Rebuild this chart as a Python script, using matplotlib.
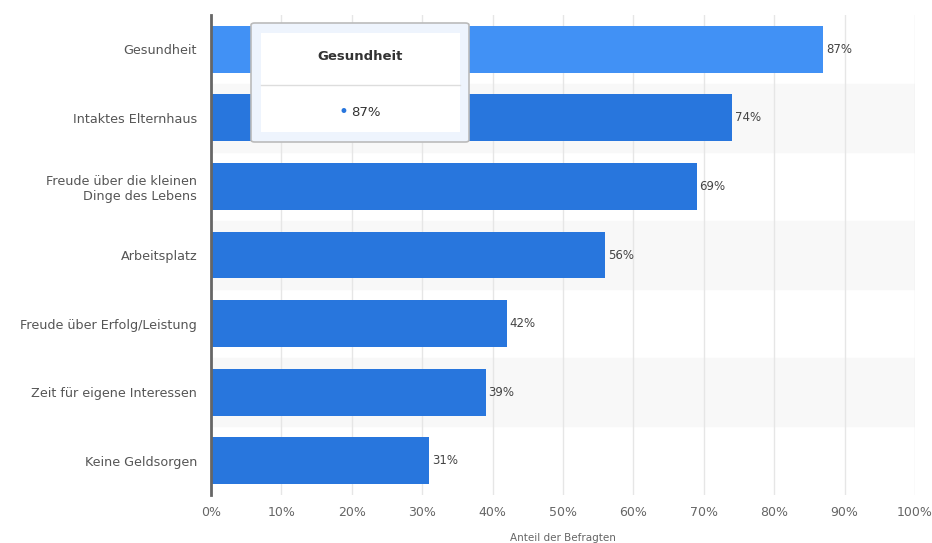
import matplotlib.pyplot as plt
from matplotlib.patches import FancyBboxPatch, Rectangle

categories = ['Gesundheit', 'Intaktes Elternhaus', 'Freude über die kleinen\nDinge des Lebens',
              'Arbeitsplatz', 'Freude über Erfolg/Leistung', 'Zeit für eigene Interessen',
              'Keine Geldsorgen']
values = [87, 74, 69, 56, 42, 39, 31]
xticks = [0, 10, 20, 30, 40, 50, 60, 70, 80, 90, 100]

fig = plt.figure(figsize=(9.32, 5.43), dpi=100)
ax = fig.add_axes([211 / 932, 48 / 543, 704 / 932, 480 / 543])

n = len(categories)
ypos = list(range(n))
for i in ypos:
    if i % 2 == 1:
        ax.axhspan(i - 0.5, i + 0.5, color='#f8f8f8', zorder=0)

colors = ['#4191f5'] + ['#2876dd'] * (n - 1)
ax.barh(ypos, values, height=0.685, color=colors, zorder=2)
for y, v in zip(ypos, values):
    ax.text(v + 0.4, y, f'{v}%', va='center', ha='left', fontsize=8.5, color='#444444', zorder=3)

ax.set_xlim(0, 100)
ax.set_ylim(n - 0.5, -0.5)
ax.set_xticks(xticks)
ax.set_xticklabels([f'{t}%' for t in xticks], fontsize=9, color='#666666')
ax.set_yticks(ypos)
ax.set_yticklabels(categories, fontsize=9.2, color='#555555')
ax.xaxis.grid(True, color='#e6e6e6', linewidth=1, zorder=1)
ax.set_axisbelow(True)
ax.tick_params(axis='both', length=0)
ax.tick_params(axis='x', pad=8)
ax.tick_params(axis='y', pad=10)
for s in ['top', 'right', 'bottom']:
    ax.spines[s].set_visible(False)
ax.spines['left'].set_color('#666666')
ax.spines['left'].set_linewidth(2)
ax.set_xlabel('Anteil der Befragten', fontsize=7.5, color='#666666', labelpad=10)

# tooltip
tip = FancyBboxPatch((251 / 932, 1 - 142 / 543), 218 / 932, 119 / 543,
                     boxstyle='round,pad=0,rounding_size=0.004', transform=fig.transFigure,
                     facecolor='#eef4fd', edgecolor='#bbbbbb', linewidth=1.2, zorder=10)
fig.patches.append(tip)
inner = Rectangle((261 / 932, 1 - 132 / 543), 199 / 932, 99 / 543, transform=fig.transFigure,
                  facecolor='white', edgecolor='none', zorder=11)
fig.patches.append(inner)
fig.add_artist(plt.Line2D([261 / 932, 460 / 932], [1 - 85 / 543, 1 - 85 / 543],
                          transform=fig.transFigure, color='#dddddd', linewidth=1, zorder=12))
fig.text(360 / 932, 1 - 56 / 543, 'Gesundheit', ha='center', va='center', fontsize=9.5,
         fontweight='bold', color='#333333', zorder=13)
fig.text(343 / 932, 1 - 112 / 543, '•', ha='center', va='center', fontsize=12,
         color='#2876dd', zorder=13)
fig.text(351 / 932, 1 - 113 / 543, '87%', ha='left', va='center', fontsize=9.5,
         color='#333333', zorder=13)

fig.savefig('out.png', dpi=100)
